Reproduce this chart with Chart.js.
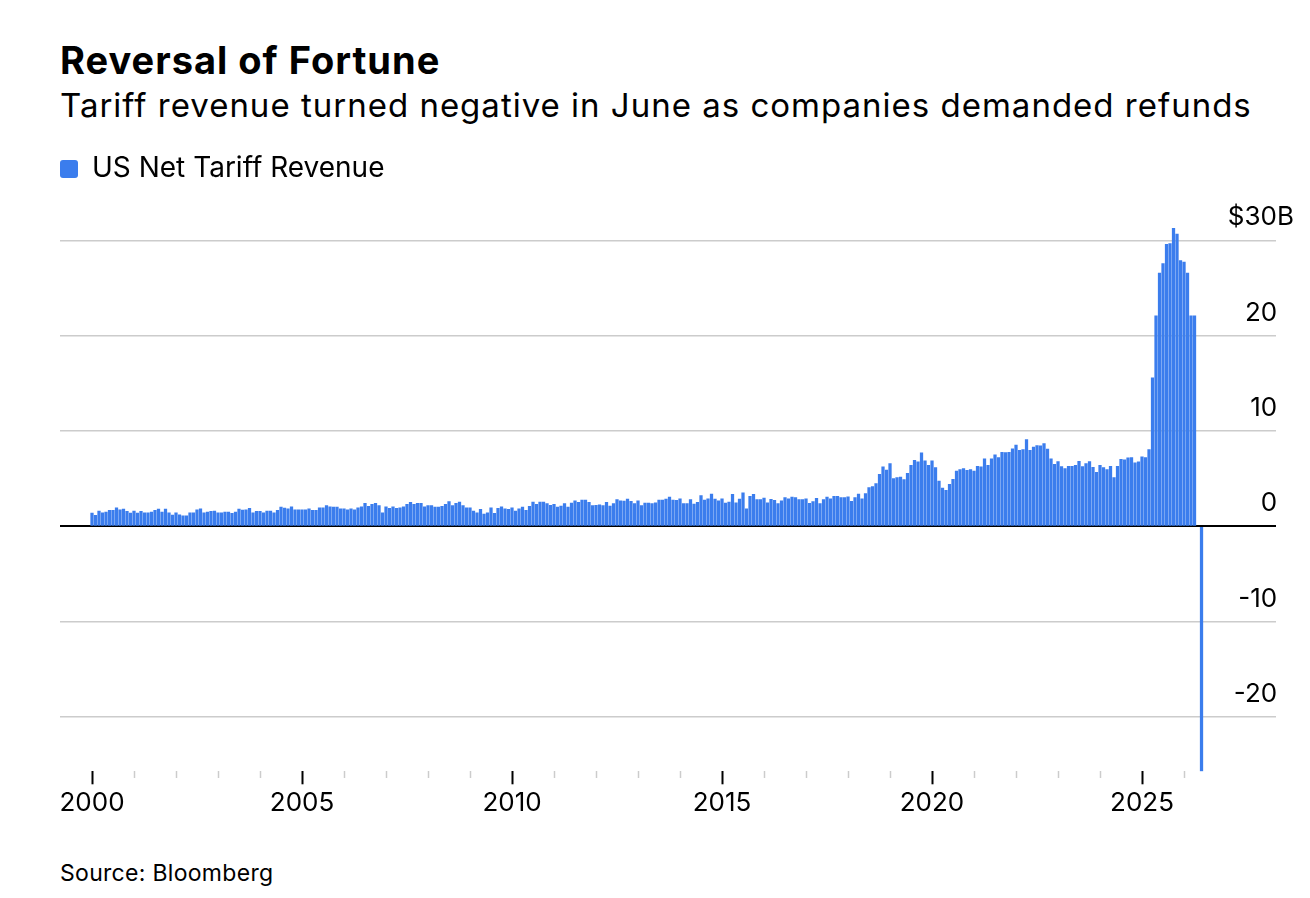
<!DOCTYPE html>
<html>
<head>
<meta charset="utf-8">
<script src="https://cdn.jsdelivr.net/npm/chart.js@4.4.1/dist/chart.umd.min.js"></script>
<style>
  body { margin: 0; background: #fff; font-family: Inter, sans-serif; color: #000; }
  .page { position: relative; width: 1310px; height: 898px; overflow: hidden; }
  .title { position: absolute; left: 60px; top: 40.5px; margin: 0; font-size: 38px; line-height: 38px; font-weight: 700; letter-spacing: 1px; white-space: nowrap; }
  .subtitle { position: absolute; left: 60px; top: 89px; margin: 0; font-size: 33px; line-height: 33px; font-weight: 400; letter-spacing: 1px; white-space: nowrap; }
  .source { position: absolute; left: 60px; top: 861.5px; margin: 0; font-size: 23px; line-height: 23px; letter-spacing: 0.3px; }
  .chart-box { position: absolute; left: 0; top: 150px; width: 1312px; height: 680px; }
</style>
</head>
<body>
<div class="page">
  <h1 class="title">Reversal of Fortune</h1>
  <p class="subtitle">Tariff revenue turned negative in June as companies demanded refunds</p>
  <div class="chart-box"><canvas id="tariffChart"></canvas></div>
  <p class="source">Source: Bloomberg</p>
</div>
<script>
// --- Data ---
const seriesName = 'US Net Tariff Revenue';
const startYear = 2000; // first bar = Jan 2000, one bar per month
// monthly net tariff revenue, $B (one row per year)
const revenue = [
  1.40,1.16,1.61,1.44,1.51,1.68,1.68,1.96,1.75,1.82,1.58,1.40, // 2000
  1.61,1.40,1.58,1.44,1.44,1.51,1.68,1.82,1.51,1.82,1.44,1.19, // 2001
  1.44,1.23,1.12,1.12,1.44,1.44,1.75,1.86,1.44,1.51,1.58,1.61, // 2002
  1.44,1.44,1.51,1.51,1.37,1.51,1.82,1.72,1.75,1.89,1.44,1.58, // 2003
  1.58,1.44,1.61,1.61,1.44,1.68,2.04,1.93,1.86,2.07,1.75,1.75, // 2004
  1.75,1.75,1.86,1.68,1.68,1.96,1.96,2.18,2.07,2.04,2.04,1.86, // 2005
  1.86,1.75,1.86,1.75,1.96,2.07,2.42,2.11,2.32,2.42,2.18,1.44, // 2006
  2.07,1.89,2.07,1.89,1.96,2.07,2.32,2.53,2.32,2.42,2.42,2.07, // 2007
  2.18,2.18,2.04,2.04,2.11,2.32,2.60,2.18,2.42,2.56,2.18,1.96, // 2008
  1.96,1.61,1.44,1.79,1.30,1.44,1.96,1.37,1.89,2.07,1.86,1.79, // 2009
  1.96,1.61,1.86,2.04,1.68,2.11,2.56,2.32,2.56,2.56,2.39,2.21, // 2010
  2.32,2.04,2.14,2.39,2.04,2.46,2.70,2.53,2.77,2.77,2.53,2.18, // 2011
  2.21,2.28,2.18,2.53,2.14,2.39,2.81,2.70,2.67,2.88,2.63,2.39, // 2012
  2.70,2.18,2.46,2.46,2.39,2.49,2.77,2.77,2.88,3.09,2.77,2.74, // 2013
  2.91,2.39,2.39,2.81,2.35,2.53,3.23,2.77,2.91,3.40,2.88,2.70, // 2014
  2.91,2.46,2.56,3.37,2.49,2.88,3.54,1.86,3.16,3.37,2.81,2.81, // 2015
  2.98,2.49,2.84,2.74,2.39,2.70,3.02,2.91,3.09,3.02,2.81,2.81, // 2016
  2.91,2.42,2.60,2.95,2.39,2.81,3.09,2.91,3.16,3.16,3.02,3.02, // 2017
  3.12,2.63,3.02,3.40,2.91,3.44,4.07,4.18,4.49,5.47,6.25,5.93, // 2018
  6.60,5.02,5.12,5.19,4.91,5.58,6.42,6.95,6.77,7.72,6.88,6.42, // 2019
  6.88,6.18,4.77,4.04,3.79,4.42,4.95,5.82,5.96,6.07,5.89,5.96, // 2020
  5.82,6.32,6.25,7.09,6.42,7.09,7.51,7.23,7.79,7.75,7.79,8.14, // 2021
  8.53,8.00,8.07,9.12,8.00,8.32,8.49,8.46,8.70,8.11,7.09,6.53, // 2022
  6.81,6.28,6.07,6.32,6.32,6.42,6.84,6.28,6.60,6.81,6.21,5.68, // 2023
  6.42,6.18,5.96,6.32,5.12,6.32,7.05,6.98,7.19,7.23,6.67,6.77, // 2024
  7.30,7.23,8.07,15.6,22.1,26.6,27.6,29.6,29.7,31.3,30.7,27.9, // 2025
  27.75,26.6,22.1,22.1,null,-25.7                               // 2026
];
const yTicks = [-20, -10, 0, 10, 20, 30];
const xLabelStep = 5;      // labelled years: 2000, 2005, ...
const lastMinorYear = 2026;

// --- Chart ---
Chart.defaults.font.family = 'Inter, sans-serif';
Chart.defaults.color = '#000';

const points = revenue.map((v, i) => ({ x: startYear + i / 12, y: v }));
const barBlue = '#3b7ded';

// numbers line up on the right, the "B" of the top label hangs past the grid
const yLabel = v => v === 30 ? '$30B' : String(v) + '\u2007';

// grey yearly ticks, skipped where a black labelled tick sits
const minorTickColor = c => {
  const v = c.tick && c.tick.value;
  if (v === undefined || v > lastMinorYear || v % xLabelStep === 0) return 'rgba(0,0,0,0)';
  return '#cccccc';
};

new Chart(document.getElementById('tariffChart'), {
  type: 'bar',
  data: {
    datasets: [{
      label: seriesName,
      data: points,
      backgroundColor: barBlue,
      borderWidth: 0,
      barThickness: 2.6
    }]
  },
  options: {
    responsive: true,
    maintainAspectRatio: false,
    animation: false,
    events: [],
    layout: { padding: { left: 60, right: 0, top: 5, bottom: 7.5 } },
    plugins: {
      tooltip: { enabled: false },
      legend: {
        position: 'top',
        align: 'start',
        labels: {
          boxWidth: 18, boxHeight: 18, useBorderRadius: true, borderRadius: 3,
          padding: 0, font: { size: 28 }, color: '#000'
        }
      }
    },
    scales: {
      x: {
        type: 'linear',
        position: 'bottom',
        min: 1999.238,
        max: 2028.19,
        offset: false,
        border: { display: false },
        grid: { offset: false, drawOnChartArea: false, drawTicks: true, tickLength: 13, tickColor: '#000', tickWidth: 2 },
        ticks: {
          stepSize: xLabelStep, autoSkip: false, maxRotation: 0, padding: 3.5, includeBounds: false,
          font: { size: 26 }, color: '#000',
          callback: v => String(v)
        }
      },
      xMinor: {
        type: 'linear',
        position: { y: -25.7 },
        min: 1999.238,
        max: 2028.19,
        offset: false,
        border: { display: false },
        grid: {
          offset: false, drawOnChartArea: false, drawTicks: true, tickLength: 7, tickWidth: 1.5,
          tickColor: minorTickColor
        },
        ticks: { display: false, stepSize: 1, autoSkip: false, includeBounds: false }
      },
      y: {
        type: 'linear',
        position: 'right',
        min: -25.7,
        max: 35.0,
        border: { display: false },
        afterBuildTicks: scale => { scale.ticks = yTicks.map(v => ({ value: v })); },
        grid: {
          drawTicks: false,
          color: c => c.tick.value === 0 ? '#000' : '#cccccc',
          lineWidth: c => c.tick.value === 0 ? 2 : 1.5
        },
        ticks: {
          mirror: true, padding: 18, labelOffset: -23, includeBounds: false,
          font: { size: 26 }, color: '#000',
          callback: yLabel
        }
      }
    }
  }
});
</script>
</body>
</html>
